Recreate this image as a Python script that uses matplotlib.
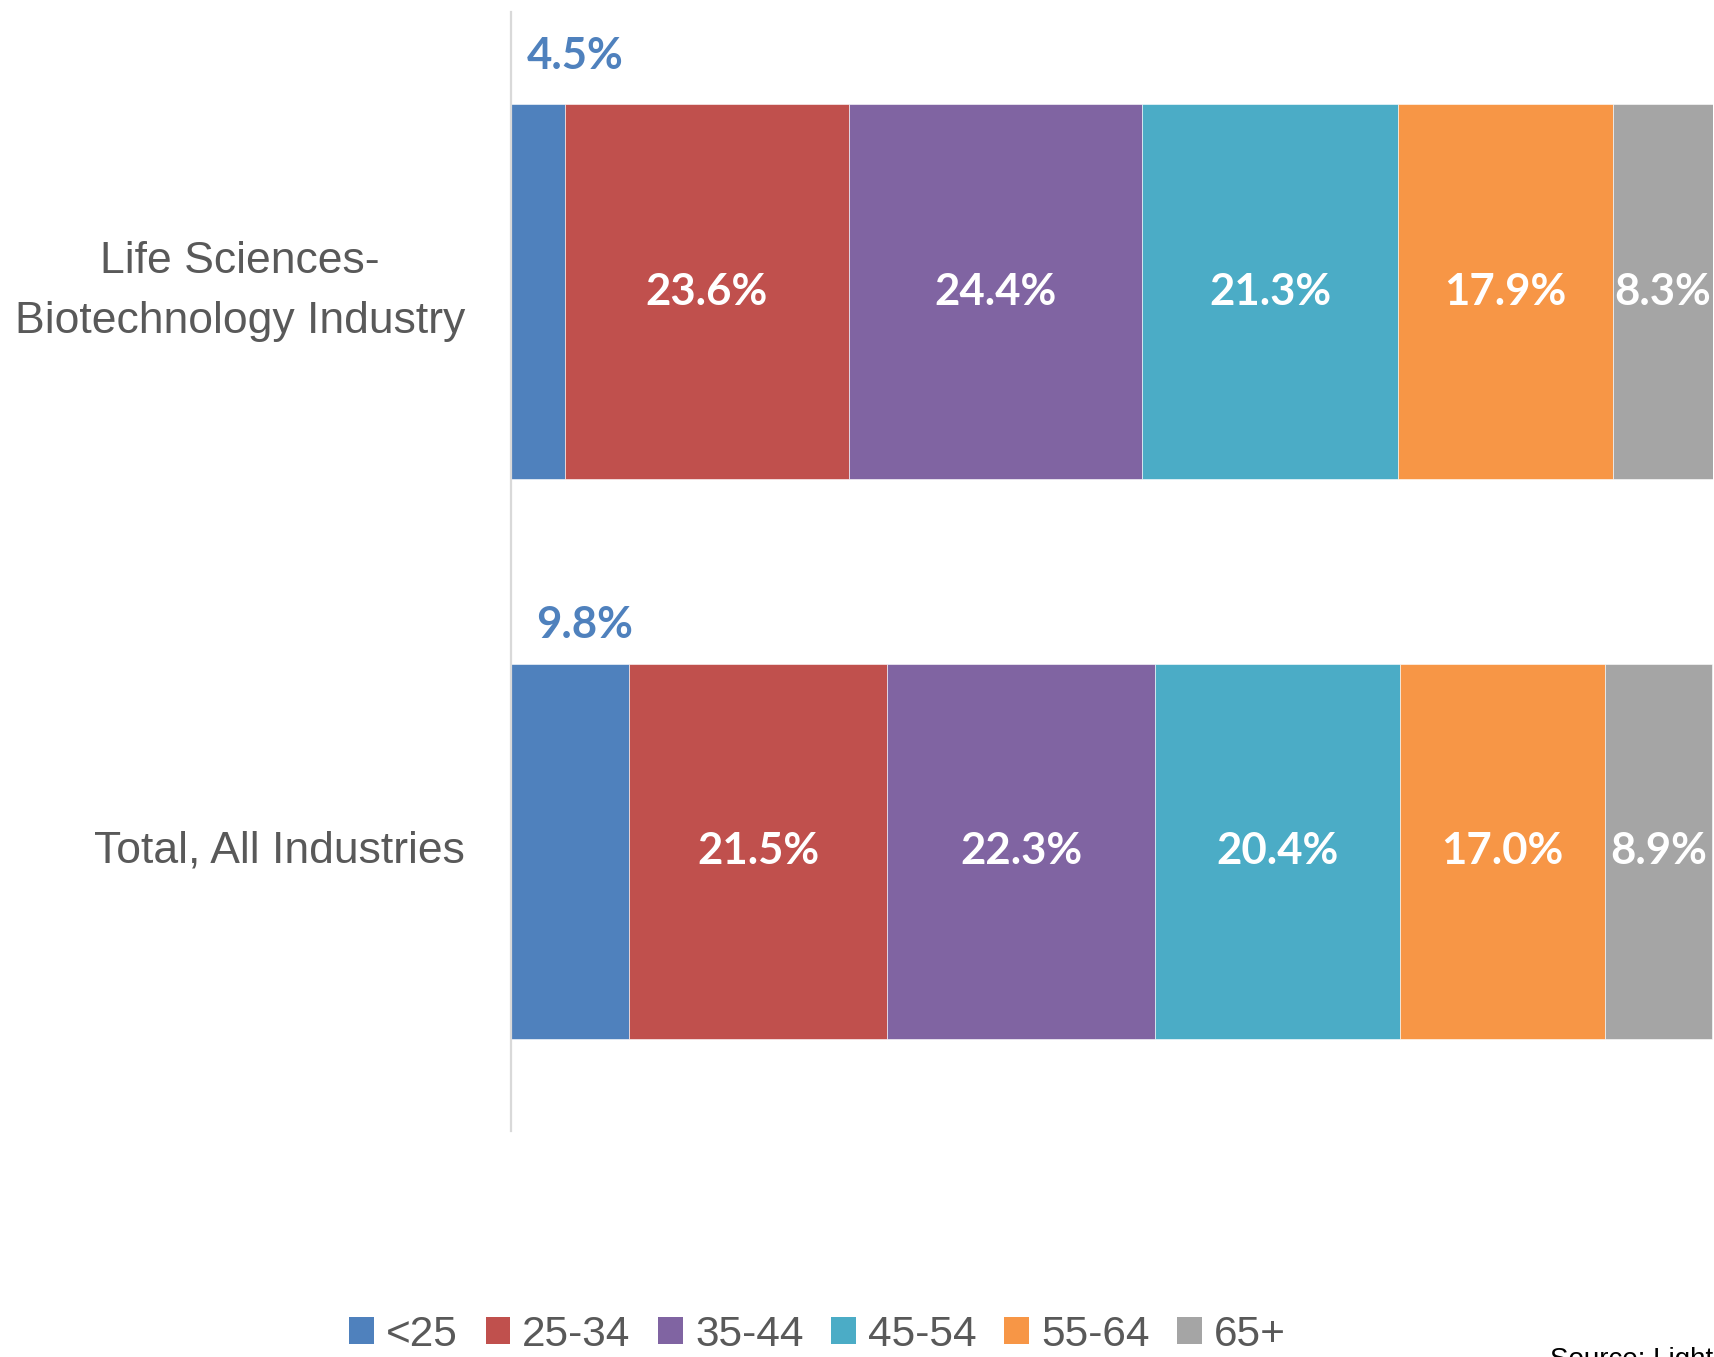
import matplotlib
matplotlib.use("Agg")
import matplotlib.pyplot as plt
from matplotlib.patches import Patch
from matplotlib import font_manager

# Data
categories = ["Life Sciences-\nBiotechnology Industry", "Total, All Industries"]
age_groups = ["<25", "25-34", "35-44", "45-54", "55-64", "65+"]
biotech_share = [4.5, 23.6, 24.4, 21.3, 17.9, 8.3]
all_industries_share = [9.8, 21.5, 22.3, 20.4, 17.0, 8.9]
colors = ["#4F81BD", "#C0504D", "#8064A2", "#4BACC6", "#F79646", "#A5A5A5"]
source_note = "Source: Lightcast"

rows = [biotech_share, all_industries_share]

available = {f.name for f in font_manager.fontManager.ttflist}
sans = "Liberation Sans" if "Liberation Sans" in available else "DejaVu Sans"
bold_font = "Lato" if "Lato" in available else "DejaVu Sans"

W, H = 1714, 1357
fig = plt.figure(figsize=(W / 100, H / 100), dpi=100)
ax_left, ax_right = 511, 1713
ax_top, ax_bottom = 12, 1131
ax = fig.add_axes([ax_left / W, 1 - ax_bottom / H,
                   (ax_right - ax_left) / W, (ax_bottom - ax_top) / H])

bar_h = 0.671
ypos = list(range(len(categories)))
for r, vals in enumerate(rows):
    left = 0.0
    for i, v in enumerate(vals):
        ax.barh(ypos[r], v, left=left, height=bar_h, color=colors[i],
                edgecolor="#ffffff", linewidth=0.4)
        if i == 0:
            # Narrow first segment: label sits above the bar
            x_off = [1.3, 2.1][r]
            y_off = [0.085, 0.068][r]
            ax.text(x_off, ypos[r] - bar_h / 2 - y_off, f"{v:.1f}%",
                    ha="left", va="center", color=colors[0],
                    fontsize=31.5, fontweight="bold", family=bold_font)
        else:
            ax.text(left + v / 2, ypos[r], f"{v:.1f}%", ha="center", va="center",
                    color="white", fontsize=31.5, fontweight="bold", family=bold_font)
        left += v

ax.set_xlim(0, 100)
ax.set_ylim(1.5, -0.5)
ax.set_xticks([])
ax.set_yticks(ypos)
ax.set_yticklabels(categories, fontsize=32, color="#595959", family=sans,
                   multialignment="center", linespacing=1.6)
for lbl in ax.get_yticklabels():
    lbl.set_verticalalignment("center")
ax.tick_params(axis="y", length=0, pad=33)
for s in ["top", "right", "bottom"]:
    ax.spines[s].set_visible(False)
ax.spines["left"].set_color("#D9D9D9")
ax.spines["left"].set_linewidth(1.6)

handles = [Patch(facecolor=c, edgecolor="none", label=l) for c, l in zip(colors, age_groups)]
fig.legend(handles=handles, loc="center", bbox_to_anchor=(0.477, 0.0165), ncol=6,
           frameon=False, prop={"family": sans, "size": 30.5},
           labelcolor="#595959", handlelength=0.59, handleheight=0.59,
           handletextpad=0.28, columnspacing=0.65, borderpad=0, borderaxespad=0)

fig.text(1550 / W, 1 - 1347 / H, source_note, ha="left", va="top",
         fontsize=20, color="black", family=sans)

fig.savefig("out.png", dpi=100)
